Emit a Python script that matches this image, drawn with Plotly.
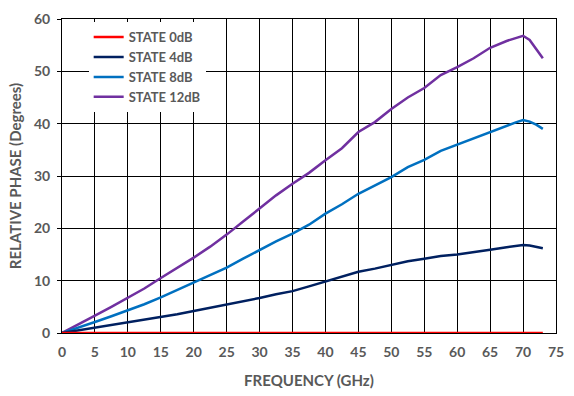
import plotly.graph_objects as go

freq = [0, 2.5, 5, 7.5, 10, 12.5, 15, 17.5, 20, 22.5, 25, 27.5, 30, 32.5, 35, 37.5, 40,
        42.5, 45, 47.5, 50, 52.5, 55, 57.5, 60, 62.5, 65, 67.5, 69, 70, 71, 72, 73]

state_0db = [0] * len(freq)
state_4db = [0, 0.5, 1.0, 1.5, 2.0, 2.5, 3.1, 3.6, 4.2, 4.8, 5.4, 6.0, 6.7, 7.4, 8.0, 8.9, 9.8,
             10.7, 11.7, 12.3, 13.0, 13.7, 14.2, 14.7, 15.0, 15.4, 15.9, 16.4, 16.7, 16.8, 16.7, 16.5, 16.2]
state_8db = [0, 1.0, 2.1, 3.2, 4.3, 5.5, 6.8, 8.2, 9.6, 11.0, 12.5, 14.2, 15.9, 17.5, 19.0, 20.7, 22.8,
             24.6, 26.6, 28.2, 29.8, 31.7, 33.1, 34.8, 36.0, 37.2, 38.5, 39.6, 40.3, 40.7, 40.4, 39.8, 39.0]
state_12db = [0, 1.6, 3.3, 5.0, 6.7, 8.5, 10.5, 12.4, 14.4, 16.5, 18.8, 21.3, 23.8, 26.3, 28.5, 30.6, 33.0,
              35.3, 38.4, 40.3, 42.8, 45.0, 46.8, 49.3, 50.8, 52.5, 54.5, 55.8, 56.4, 56.8, 56.0, 54.2, 52.5]

names = ["STATE 0dB", "STATE 4dB", "STATE 8dB", "STATE 12dB"]
series = [state_0db, state_4db, state_8db, state_12db]
colors = ["#FF0000", "#002060", "#0070C0", "#7030A0"]

x_ticks = list(range(0, 80, 5))
y_ticks = list(range(0, 70, 10))

font_family = "Lato, 'Open Sans', sans-serif"
gray = "#595959"

fig = go.Figure()
# draw order: purple, blue, navy, red last so red sits on top at zero
for i in [3, 2, 1, 0]:
    fig.add_trace(go.Scatter(x=freq, y=series[i], mode="lines", name=names[i],
                             line=dict(color=colors[i], width=2.5)))

fig.update_layout(
    width=574, height=396,
    margin=dict(l=62, r=10, t=14, b=62),
    plot_bgcolor="white", paper_bgcolor="white",
    font=dict(family=font_family, color=gray, size=13),
    legend=dict(x=0.054, y=0.99, xanchor="left", yanchor="top",
                bgcolor="white", traceorder="reversed",
                font=dict(size=13, color=gray, family=font_family, weight="bold"),
                itemwidth=30, tracegroupgap=0),
    showlegend=True,
)
fig.update_xaxes(
    range=[0, 75], tickvals=x_ticks, ticktext=[str(v) for v in x_ticks],
    showgrid=True, gridcolor="#000000", gridwidth=1,
    showline=True, linecolor="black", linewidth=1, mirror=True,
    zeroline=False, ticks="", ticklen=0, ticklabelstandoff=6,
    tickfont=dict(size=14, color=gray, family=font_family, weight="bold"),
    title=dict(text="FREQUENCY (GHz)", standoff=16,
               font=dict(size=15, color=gray, family=font_family, weight="bold")),
)
fig.update_yaxes(
    range=[0, 60], tickvals=y_ticks, ticktext=[str(v) for v in y_ticks],
    showgrid=True, gridcolor="#000000", gridwidth=1,
    showline=True, linecolor="black", linewidth=1, mirror=True,
    zeroline=False, ticks="outside", ticklen=4, tickcolor="black",
    ticklabelstandoff=4,
    tickfont=dict(size=14, color=gray, family=font_family, weight="bold"),
    title=dict(text="RELATIVE PHASE (Degrees)", standoff=8,
               font=dict(size=15, color=gray, family=font_family, weight="bold")),
)

fig.write_html("out.html")
